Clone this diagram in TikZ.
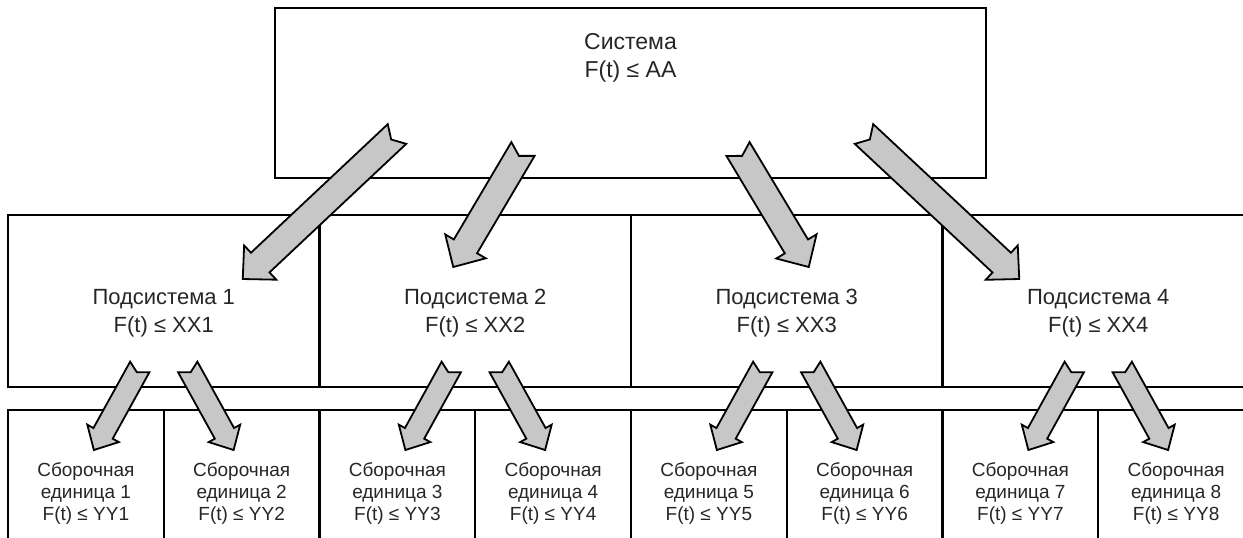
\documentclass[tikz,border=0pt]{standalone}
\usepackage{fontspec}
\setmainfont{Liberation Sans}
\usetikzlibrary{calc, positioning}

% block arrow with notched tail: tail, tip, half shaft, half head, head length, notch
\newcommand{\blockarrow}[6]{%
  \path ($(#2)!#5!(#1)$) coordinate (ba-h) ($(#1)!#6!(#2)$) coordinate (ba-n);
  \draw[blockarr] ($(#1)!#3!90:(#2)$) -- ($(ba-h)!#3!90:(#2)$) -- ($(ba-h)!#4!90:(#2)$) -- (#2)
    -- ($(ba-h)!#4!-90:(#2)$) -- ($(ba-h)!#3!-90:(#2)$) -- ($(#1)!#3!-90:(#2)$) -- (ba-n) -- cycle;}
\newcommand{\bigarrow}[2]{\blockarrow{#1}{#2}{6.75pt}{11.75pt}{12pt}{4pt}}
\newcommand{\smallarrow}[2]{\blockarrow{#1}{#2}{5.5pt}{9pt}{9.5pt}{3pt}}

\begin{document}
\begin{tikzpicture}[
    x=0.5pt, y=-0.5pt,
    box/.style={draw, line width=1.1pt, inner sep=0pt, outer sep=0pt},
    sysbox/.style={box, line width=1.4pt, minimum width=355.5pt, minimum height=85pt},
    subbox/.style={box, minimum width=155.75pt, minimum height=86pt},
    asmbox/.style={box, minimum width=77.875pt, minimum height=83pt},
    lbl/.style={align=center, text=black!85, inner sep=0pt},
    systext/.style={lbl, font=\fontsize{11.5}{14}\selectfont},
    subtext/.style={lbl, font=\fontsize{11}{14}\selectfont},
    asmtext/.style={lbl, font=\fontsize{9.5}{11}\selectfont},
    blockarr/.style={draw, fill=black!22, line width=0.9pt, line join=miter}
]
\useasboundingbox (0,0) rectangle (1243,537);
\clip (0,0) rectangle (1243,537);

% boxes
\node[sysbox] (sys) at (630.5,93) {};
\node[subbox, anchor=north west] (sub1) at (8,215) {};
\node[subbox, right=0pt of sub1] (sub2) {};
\node[subbox, right=0pt of sub2] (sub3) {};
\node[subbox, right=0pt of sub3] (sub4) {};
\node[asmbox, anchor=north west] (asm1) at ($(sub1.south west)+(0,23)$) {};
\node[asmbox, right=0pt of asm1] (asm2) {};
\node[asmbox, right=0pt of asm2] (asm3) {};
\node[asmbox, right=0pt of asm3] (asm4) {};
\node[asmbox, right=0pt of asm4] (asm5) {};
\node[asmbox, right=0pt of asm5] (asm6) {};
\node[asmbox, right=0pt of asm6] (asm7) {};
\node[asmbox, right=0pt of asm7] (asm8) {};

% texts
\node[systext] (sys-t) at ($(sys.north)+(0,49.5)$) {Система\\F(t) ≤ AA};
\node[subtext] (sub1-t) at ($(sub1.center)+(0,12)$) {Подсистема 1\\F(t) ≤ XX1};
\node[subtext] (sub2-t) at ($(sub2.center)+(0,12)$) {Подсистема 2\\F(t) ≤ XX2};
\node[subtext] (sub3-t) at ($(sub3.center)+(0,12)$) {Подсистема 3\\F(t) ≤ XX3};
\node[subtext] (sub4-t) at ($(sub4.center)+(0,12)$) {Подсистема 4\\F(t) ≤ XX4};
\node[asmtext] (asm1-t) at (asm1.center) {Сборочная\\единица 1\\F(t) ≤ YY1};
\node[asmtext] (asm2-t) at (asm2.center) {Сборочная\\единица 2\\F(t) ≤ YY2};
\node[asmtext] (asm3-t) at (asm3.center) {Сборочная\\единица 3\\F(t) ≤ YY3};
\node[asmtext] (asm4-t) at (asm4.center) {Сборочная\\единица 4\\F(t) ≤ YY4};
\node[asmtext] (asm5-t) at (asm5.center) {Сборочная\\единица 5\\F(t) ≤ YY5};
\node[asmtext] (asm6-t) at (asm6.center) {Сборочная\\единица 6\\F(t) ≤ YY6};
\node[asmtext] (asm7-t) at (asm7.center) {Сборочная\\единица 7\\F(t) ≤ YY7};
\node[asmtext] (asm8-t) at (asm8.center) {Сборочная\\единица 8\\F(t) ≤ YY8};

% system -> subsystems
\coordinate (s1a) at ($(sys.south)+(-233.5,-44)$);
\coordinate (s1b) at ($(sub1.center)+(79,-22)$);
\coordinate (s2a) at ($(sys.south)+(-107.5,-29)$);
\coordinate (s2b) at ($(sub2.center)+(-22,-34)$);
\coordinate (s3a) at ($(sys.south)+(107.5,-29)$);
\coordinate (s3b) at ($(sub3.center)+(22,-34)$);
\coordinate (s4a) at ($(sys.south)+(233.5,-44)$);
\coordinate (s4b) at ($(sub4.center)+(-79,-22)$);
\bigarrow{s1a}{s1b}
\bigarrow{s2a}{s2b}
\bigarrow{s3a}{s3b}
\bigarrow{s4a}{s4b}

% subsystems -> assembly units
\foreach \i/\l/\r in {1/1/2, 2/3/4, 3/5/6, 4/7/8} {
  \coordinate (sub\i-la) at ($(sub\i.south)+(-24,-20)$);
  \coordinate (sub\i-lb) at ($(asm\l.north)+(8,40)$);
  \coordinate (sub\i-ra) at ($(sub\i.south)+(24,-20)$);
  \coordinate (sub\i-rb) at ($(asm\r.north)+(-8,40)$);
  \smallarrow{sub\i-la}{sub\i-lb}
  \smallarrow{sub\i-ra}{sub\i-rb}
}
\end{tikzpicture}
\end{document}
